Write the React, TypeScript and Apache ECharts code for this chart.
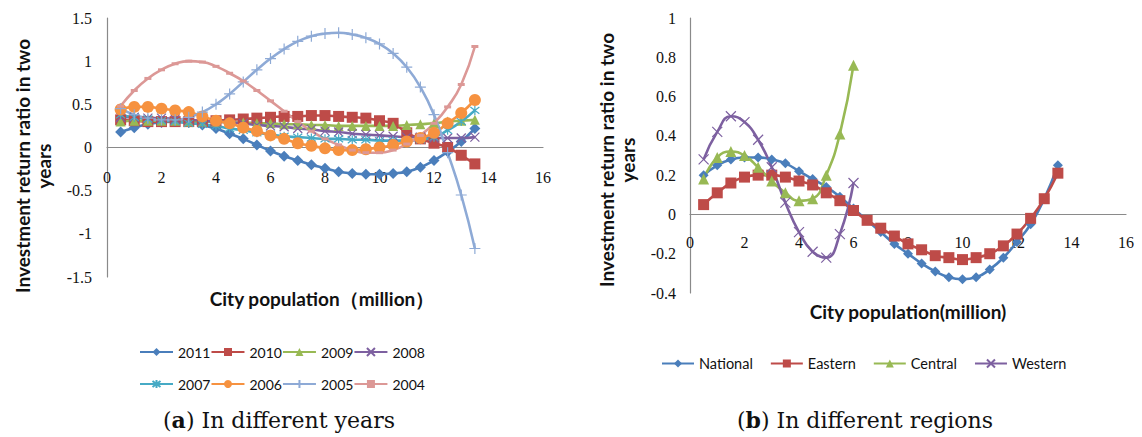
import React, { useEffect, useRef } from "react";
import * as echarts from "echarts";

// City population (million) at which each ratio was evaluated
const popX = [0.5, 1, 1.5, 2, 2.5, 3, 3.5, 4, 4.5, 5, 5.5, 6, 6.5, 7, 7.5, 8, 8.5, 9, 9.5, 10, 10.5, 11, 11.5, 12, 12.5, 13, 13.5];
const popXShort = [0.5, 1, 1.5, 2, 2.5, 3, 3.5, 4, 4.5, 5, 5.5, 6];

// (a) by year
const yearNames = ["2011", "2010", "2009", "2008", "2007", "2006", "2005", "2004"];
const y2011 = [0.18, 0.23, 0.27, 0.29, 0.3, 0.29, 0.26, 0.22, 0.16, 0.1, 0.03, -0.04, -0.1, -0.15, -0.2, -0.24, -0.28, -0.3, -0.31, -0.31, -0.3, -0.28, -0.23, -0.15, -0.05, 0.07, 0.22];
const y2010 = [0.32, 0.31, 0.3, 0.3, 0.3, 0.3, 0.3, 0.31, 0.32, 0.33, 0.34, 0.35, 0.36, 0.36, 0.37, 0.37, 0.36, 0.35, 0.34, 0.31, 0.28, 0.17, 0.1, 0.05, 0.0, -0.09, -0.19];
const y2009 = [0.3, 0.31, 0.31, 0.31, 0.31, 0.3, 0.3, 0.3, 0.29, 0.29, 0.28, 0.28, 0.27, 0.27, 0.26, 0.26, 0.25, 0.25, 0.25, 0.25, 0.25, 0.26, 0.27, 0.28, 0.3, 0.31, 0.32];
const y2008 = [0.35, 0.35, 0.34, 0.34, 0.33, 0.32, 0.31, 0.3, 0.29, 0.28, 0.26, 0.25, 0.24, 0.22, 0.21, 0.19, 0.18, 0.16, 0.15, 0.14, 0.13, 0.12, 0.12, 0.11, 0.11, 0.11, 0.12];
const y2007 = [0.38, 0.35, 0.33, 0.31, 0.3, 0.28, 0.27, 0.25, 0.22, 0.2, 0.17, 0.15, 0.13, 0.12, 0.11, 0.1, 0.1, 0.09, 0.09, 0.08, 0.08, 0.08, 0.09, 0.12, 0.2, 0.3, 0.43];
const y2006 = [0.44, 0.47, 0.47, 0.45, 0.43, 0.41, 0.36, 0.31, 0.28, 0.23, 0.19, 0.14, 0.1, 0.05, 0.02, -0.01, -0.03, -0.03, -0.02, 0.0, 0.03, 0.07, 0.11, 0.17, 0.28, 0.4, 0.55];
const y2005 = [0.45, 0.38, 0.34, 0.32, 0.32, 0.35, 0.41, 0.5, 0.62, 0.76, 0.9, 1.03, 1.14, 1.23, 1.29, 1.32, 1.33, 1.31, 1.27, 1.2, 1.09, 0.93, 0.7, 0.38, -0.06, -0.55, -1.17];
const y2004 = [0.48, 0.66, 0.8, 0.9, 0.97, 1.0, 0.99, 0.94, 0.86, 0.77, 0.66, 0.54, 0.42, 0.3, 0.19, 0.1, 0.03, -0.03, -0.06, -0.06, -0.03, 0.04, 0.14, 0.28, 0.47, 0.73, 1.17];

// (b) by region
const regionNames = ["National", "Eastern", "Central", "Western"];
const national = [0.2, 0.25, 0.28, 0.29, 0.29, 0.28, 0.26, 0.22, 0.18, 0.14, 0.09, 0.03, -0.03, -0.09, -0.15, -0.2, -0.25, -0.29, -0.32, -0.33, -0.32, -0.28, -0.22, -0.14, -0.05, 0.08, 0.25];
const eastern = [0.05, 0.11, 0.16, 0.19, 0.2, 0.2, 0.19, 0.17, 0.15, 0.11, 0.07, 0.02, -0.03, -0.07, -0.11, -0.15, -0.18, -0.21, -0.22, -0.23, -0.22, -0.2, -0.16, -0.1, -0.02, 0.08, 0.21];
const central = [0.18, 0.29, 0.32, 0.3, 0.24, 0.17, 0.11, 0.07, 0.08, 0.2, 0.41, 0.76];
const western = [0.28, 0.42, 0.5, 0.47, 0.38, 0.24, 0.06, -0.09, -0.19, -0.22, -0.1, 0.16];

// Axis ranges
const yRangeA = { min: -1.5, max: 1.5, interval: 0.5 };
const yRangeB = { min: -0.4, max: 1, interval: 0.2 };

const zip = (xs: number[], ys: number[]) => xs.map((x, i) => [x, ys[i]]);

const PLUS = "path://M0,-1L0,1M-1,0L1,0";
const CROSS = "path://M-1,-1L1,1M-1,1L1,-1";
const STAR = "path://M-1,-1L1,1M-1,1L1,-1M0,-1.3L0,1.3";

const axisColor = "#8a8a8a";
const tickFont = { fontFamily: "Liberation Serif", fontSize: 16, color: "#111" };
const titleFont = "bold 19px Lato, 'Liberation Sans', sans-serif";
const captionFont = "22px 'DejaVu Serif', serif";
const legendFont = "Lato, 'Liberation Sans', sans-serif";

function lineSeries(
  name: string,
  xs: number[],
  ys: number[],
  color: string,
  symbol: string,
  symbolSize: number | number[],
  axis: number,
  stroked = false
) {
  return {
    name,
    type: "line",
    xAxisIndex: axis,
    yAxisIndex: axis,
    data: zip(xs, ys),
    smooth: true,
    symbol,
    symbolSize,
    showSymbol: true,
    color,
    lineStyle: { color, width: 2.6 },
    itemStyle: stroked
      ? { color: "transparent", borderColor: color, borderWidth: 1.2 }
      : { color, borderWidth: 0 },
    emphasis: { disabled: true },
  };
}

export default function App() {
  const ref = useRef<HTMLDivElement>(null);

  useEffect(() => {
    if (!ref.current) return;
    const chart = echarts.init(ref.current, undefined, { renderer: "svg" });

    const grids = [
      { left: 107, top: 18, width: 436, height: 259 },
      { left: 690, top: 18, width: 436, height: 275 },
    ];
    const ranges = [yRangeA, yRangeB];

    // the population axis sits on the zero line, labels hanging below it
    const xAxisAt = (gridIndex: number, margin: number) => {
      const g = grids[gridIndex];
      const r = ranges[gridIndex];
      const zeroOffset = -((0 - r.min) / (r.max - r.min)) * g.height;
      return {
        type: "value",
        gridIndex,
        min: 0,
        max: 16,
        interval: 2,
        position: "bottom",
        offset: zeroOffset,
        axisLine: { onZero: false, lineStyle: { color: axisColor, width: 1.2 } },
        axisTick: { show: false },
        splitLine: { show: false },
        axisLabel: { margin, ...tickFont },
      };
    };

    const yAxisFor = (gridIndex: number, margin: number) => ({
      type: "value",
      gridIndex,
      ...ranges[gridIndex],
      axisLine: { show: true, onZero: false, lineStyle: { color: axisColor, width: 1.2 } },
      axisTick: { show: false },
      splitLine: { show: false },
      axisLabel: { margin, ...tickFont },
    });

    const legendBase = {
      itemHeight: 10,
      padding: 0,
      selectedMode: false,
    };

    const option = {
      animation: false,
      backgroundColor: "#fff",
      grid: grids,
      xAxis: [xAxisAt(0, 22), xAxisAt(1, 20)],
      yAxis: [yAxisFor(0, 15), yAxisFor(1, 14)],
      legend: [
        {
          ...legendBase,
          data: yearNames.slice(0, 4),
          left: 139,
          top: 345,
          itemWidth: 33,
          itemGap: 0,
          textStyle: { fontFamily: legendFont, fontSize: 14, color: "#111" },
        },
        {
          ...legendBase,
          data: yearNames.slice(4),
          left: 139,
          top: 377,
          itemWidth: 33,
          itemGap: 0,
          textStyle: { fontFamily: legendFont, fontSize: 14, color: "#111" },
        },
        {
          ...legendBase,
          data: regionNames,
          left: 661,
          top: 356,
          itemWidth: 32,
          itemGap: 17,
          textStyle: { fontFamily: legendFont, fontSize: 14.5, color: "#111" },
        },
      ],
      series: [
        lineSeries("2011", popX, y2011, "#4a7ebb", "diamond", 11, 0),
        lineSeries("2010", popX, y2010, "#be4b48", "rect", 11, 0),
        lineSeries("2009", popX, y2009, "#98b954", "triangle", 10, 0),
        lineSeries("2008", popX, y2008, "#7d60a0", CROSS, 9, 0, true),
        lineSeries("2007", popX, y2007, "#46aac5", STAR, 9, 0, true),
        lineSeries("2006", popX, y2006, "#f69240", "circle", 12, 0),
        lineSeries("2005", popX, y2005, "#8eaad6", PLUS, 11, 0, true),
        lineSeries("2004", popX, y2004, "#dc9896", "rect", [7, 3], 0),
        lineSeries("National", popX, national, "#4a7ebb", "diamond", 10, 1),
        lineSeries("Eastern", popX, eastern, "#be4b48", "rect", 11, 1),
        lineSeries("Central", popXShort, central, "#98b954", "triangle", 11, 1),
        lineSeries("Western", popXShort, western, "#7d60a0", CROSS, 10, 1, true),
      ],
      graphic: [
        {
          type: "text",
          x: 22,
          y: 166,
          rotation: Math.PI / 2,
          style: { text: "Investment return ratio in two", font: titleFont, fill: "#111", align: "center", verticalAlign: "middle" },
        },
        {
          type: "text",
          x: 43,
          y: 166,
          rotation: Math.PI / 2,
          style: { text: "years", font: titleFont, fill: "#111", align: "center", verticalAlign: "middle" },
        },
        {
          type: "text",
          x: 606,
          y: 160,
          rotation: Math.PI / 2,
          style: { text: "Investment return ratio in two", font: titleFont, fill: "#111", align: "center", verticalAlign: "middle" },
        },
        {
          type: "text",
          x: 627,
          y: 160,
          rotation: Math.PI / 2,
          style: { text: "years", font: titleFont, fill: "#111", align: "center", verticalAlign: "middle" },
        },
        {
          type: "text",
          x: 322,
          y: 298,
          style: { text: "City population（million）", font: titleFont, fill: "#111", align: "center", verticalAlign: "middle" },
        },
        {
          type: "text",
          x: 908,
          y: 311,
          style: { text: "City population(million)", font: titleFont, fill: "#111", align: "center", verticalAlign: "middle" },
        },
        {
          type: "text",
          x: 279,
          y: 420,
          style: {
            text: "({b|a}) In different years",
            font: captionFont,
            fill: "#111",
            align: "center",
            verticalAlign: "middle",
            rich: { b: { fontWeight: "bold", fontSize: 22, fontFamily: "DejaVu Serif" } },
          },
        },
        {
          type: "text",
          x: 865,
          y: 420,
          style: {
            text: "({b|b}) In different regions",
            font: captionFont,
            fill: "#111",
            align: "center",
            verticalAlign: "middle",
            rich: { b: { fontWeight: "bold", fontSize: 22, fontFamily: "DejaVu Serif" } },
          },
        },
      ],
    };

    chart.setOption(option as any);
    return () => chart.dispose();
  }, []);

  return (
    <div
      ref={ref}
      style={{ position: "fixed", left: 0, top: 0, width: 1142, height: 437, background: "#fff" }}
    />
  );
}
